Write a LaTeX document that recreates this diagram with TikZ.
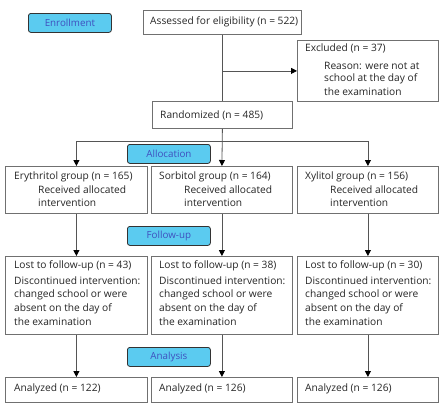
\documentclass[tikz,border=0pt]{standalone}
\usepackage{fontspec}
\setmainfont{Open Sans}
\usetikzlibrary{arrows.meta}
\definecolor{stagefill}{HTML}{5BCBF0}
\definecolor{stagetext}{HTML}{3F4FBF}
\definecolor{boxline}{HTML}{707070}
\definecolor{connline}{HTML}{555555}
\tikzset{
  box/.style={draw=boxline, line width=0.8pt, fill=white, inner sep=0pt, anchor=north west},
  stage/.style={draw=black!80, fill=stagefill, rounded corners=2.5pt, line width=0.8pt,
    text=stagetext, anchor=north west, inner sep=0pt, minimum width=83pt, minimum height=19pt,
    font=\fontsize{9.8}{12}\selectfont},
  txt/.style={anchor=west, inner sep=0pt, text=black!85, font=\fontsize{10.2}{12}\selectfont},
  conn/.style={draw=connline, line width=0.8pt},
  arr/.style={conn, -{Triangle[length=6pt,width=6pt,color=black]}}
}
\begin{document}
\begin{tikzpicture}[x=1pt,y=-1pt]
\useasboundingbox[fill=white] (0,0) rectangle (443,413);
% stage labels
\node[stage] (enr) at (28,13) {Enrollment};
\node[stage] (alloc) at (127,144) {Allocation};
\node[stage] (foll) at (127,226) {Follow-up};
\node[stage] (anal) at (127,347) {Analysis};
% boxes
\node[box, minimum width=158pt, minimum height=24pt] (assess) at (143,10) {};
\node[box, minimum width=141pt, minimum height=61pt] (excl) at (297,40) {};
\node[box, minimum width=140pt, minimum height=27pt] (rand) at (152,101) {};
\node[box, minimum width=142pt, minimum height=47pt] (g1) at (5,166) {};
\node[box, minimum width=141pt, minimum height=47pt] (g2) at (151,166) {};
\node[box, minimum width=141pt, minimum height=47pt] (g3) at (297,166) {};
\node[box, minimum width=142pt, minimum height=78pt] (l1) at (5,256) {};
\node[box, minimum width=141pt, minimum height=78pt] (l2) at (151,256) {};
\node[box, minimum width=141pt, minimum height=78pt] (l3) at (297,256) {};
\node[box, minimum width=142pt, minimum height=25pt] (a1) at (5,377) {};
\node[box, minimum width=141pt, minimum height=25pt] (a2) at (151,377) {};
\node[box, minimum width=141pt, minimum height=25pt] (a3) at (297,377) {};
% texts
\node[txt] (tAssess) at (150,22) {Assessed for eligibility (n = 522)};
\node[txt] (tEx1) at (305,48) {Excluded (n = 37)};
\node[txt] (tEx2) at (324,66) {Reason: were not at};
\node[txt] (tEx3) at (324,79) {school at the day of};
\node[txt] (tEx4) at (324,92) {the examination};
\node[txt] (tRand) at (160,115) {Randomized (n = 485)};
\node[txt] (tG1a) at (14,177) {Erythritol group (n = 165)};
\node[txt] (tG1b) at (38,190) {Received allocated};
\node[txt] (tG1c) at (38,203) {intervention};
\node[txt] (tG2a) at (159,177) {Sorbitol group (n = 164)};
\node[txt] (tG2b) at (184,190) {Received allocated};
\node[txt] (tG2c) at (184,203) {intervention};
\node[txt] (tG3a) at (305,177) {Xylitol group (n = 156)};
\node[txt] (tG3b) at (330,190) {Received allocated};
\node[txt] (tG3c) at (330,203) {intervention};
\foreach \x/\n/\k in {14/43/1,159/38/2,305/30/3}{
  \node[txt] (tL\k a) at (\x,266) {Lost to follow-up (n = \n)};
  \node[txt] (tL\k b) at (\x,281) {Discontinued intervention:};
  \node[txt] (tL\k c) at (\x,295) {changed school or were};
  \node[txt] (tL\k d) at (\x,309) {absent on the day of};
  \node[txt] (tL\k e) at (\x,322) {the examination};
}
\node[txt] (tA1) at (14,389) {Analyzed (n = 122)};
\node[txt] (tA2) at (159,389) {Analyzed (n = 126)};
\node[txt] (tA3) at (305,389) {Analyzed (n = 126)};
% connectors
\coordinate (split) at (rand.south |- 0,141);
\draw[conn] (assess.south) -- (rand.north);
\draw[arr] (assess.south |- excl.west) -- (excl.west);
\draw[arr] (rand.south) -- (g2.north);
\draw[arr] (split) -| (g1.north);
\draw[arr] (split) -| (g3.north);
\draw[arr] (g1.south) -- (l1.north);
\draw[arr] (g2.south) -- (l2.north);
\draw[arr] (g3.south) -- (l3.north);
\draw[arr] (l1.south) -- (a1.north);
\draw[arr] (l2.south) -- (a2.north);
\draw[arr] (l3.south) -- (a3.north);
\end{tikzpicture}
\end{document}
